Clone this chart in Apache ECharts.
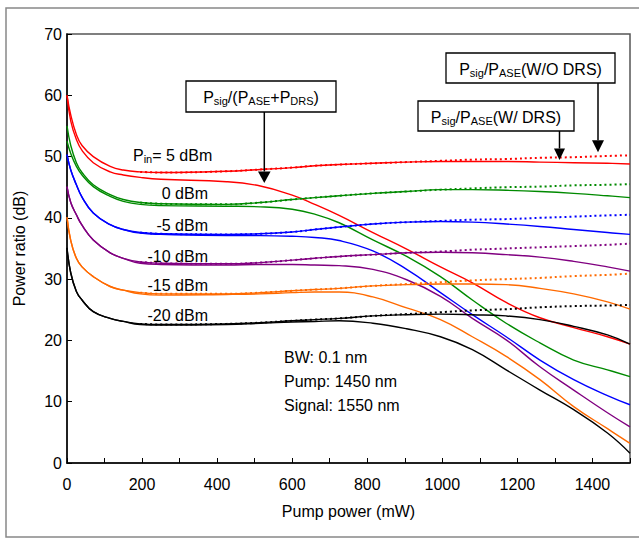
<!DOCTYPE html>
<html>
<head>
<meta charset="utf-8">
<script src="https://cdn.jsdelivr.net/npm/echarts@6/dist/echarts.min.js"></script>
<style>
html,body{margin:0;padding:0;background:#fff;}
#chart{width:639px;height:539px;}
</style>
</head>
<body>
<div id="chart"></div>
<script>
// Pump power (mW) sample positions
const pumpPower = [0, 10, 25, 40, 70, 115, 150, 195, 250, 425, 515, 600, 660, 725, 815, 905, 995, 1080, 1170, 1260, 1350, 1440, 1500];

// Pin = 5 dBm (red)
const red_DRS   = [60, 55.8, 52.8, 51.0, 49.0, 47.5, 47.0, 46.6, 46.3, 45.9, 45.2, 43.7, 42.2, 40.4, 37.6, 34.9, 32.0, 29.4, 26.2, 23.7, 22.1, 20.6, 19.4];
const red_WDRS  = [60, 56.8, 53.6, 51.8, 50.0, 48.4, 47.8, 47.5, 47.4, 47.6, 47.9, 48.2, 48.5, 48.7, 48.9, 49.1, 49.2, 49.2, 49.2, 49.1, 49.0, 48.9, 48.8];
const red_WODRS = [null, null, null, null, null, null, null, 47.5, 47.4, 47.6, 47.9, 48.2, 48.5, 48.7, 48.9, 49.1, 49.3, 49.5, 49.6, 49.8, 49.9, 50.1, 50.2];
// Pin = 0 dBm (green)
const green_DRS   = [52.5, 50.5, 48.4, 47.0, 45.1, 43.5, 42.7, 42.2, 42.0, 41.9, 41.8, 41.4, 40.6, 39.2, 36.4, 33.7, 30.4, 26.6, 22.8, 19.6, 16.8, 15.2, 14.1];
const green_WDRS  = [55, 51.8, 49.0, 47.4, 45.4, 43.8, 43.0, 42.5, 42.3, 42.2, 42.5, 43.0, 43.3, 43.6, 44.0, 44.3, 44.6, 44.6, 44.5, 44.3, 44.0, 43.6, 43.3];
const green_WODRS = [null, null, null, null, null, null, null, 42.5, 42.3, 42.2, 42.5, 43.0, 43.3, 43.6, 44.0, 44.3, 44.6, 44.8, 45.0, 45.1, 45.3, 45.4, 45.5];
// Pin = -5 dBm (blue)
const blue_DRS   = [50.3, 47.8, 45.4, 43.4, 40.8, 38.9, 38.1, 37.5, 37.3, 37.1, 37.1, 37.0, 36.8, 36.3, 34.6, 31.6, 27.8, 24.2, 20.6, 16.8, 13.6, 11.0, 9.5];
const blue_WDRS  = [50.3, 47.8, 45.4, 43.4, 40.8, 38.9, 38.1, 37.6, 37.4, 37.3, 37.4, 37.7, 38.1, 38.5, 39.0, 39.3, 39.4, 39.3, 39.0, 38.6, 38.1, 37.6, 37.3];
const blue_WODRS = [null, null, null, null, null, null, null, 37.6, 37.4, 37.3, 37.4, 37.7, 38.1, 38.5, 39.0, 39.3, 39.5, 39.7, 39.8, 40.0, 40.2, 40.4, 40.5];
// Pin = -10 dBm (purple)
const purple_DRS   = [45.1, 42.5, 40.5, 38.8, 36.4, 34.3, 33.4, 32.6, 32.4, 32.3, 32.4, 32.4, 32.3, 32.2, 31.6, 29.9, 27.2, 23.6, 20.1, 15.7, 11.9, 8.2, 5.9];
const purple_WDRS  = [45.1, 42.5, 40.5, 38.8, 36.4, 34.3, 33.4, 32.8, 32.6, 32.5, 32.7, 33.1, 33.4, 33.7, 34.0, 34.3, 34.4, 34.3, 34.0, 33.6, 32.9, 32.0, 31.3];
const purple_WODRS = [null, null, null, null, null, null, null, 32.8, 32.6, 32.5, 32.7, 33.1, 33.4, 33.7, 34.0, 34.3, 34.5, 34.8, 35.0, 35.2, 35.4, 35.6, 35.8];
// Pin = -15 dBm (orange)
const orange_DRS   = [40.1, 36.3, 33.4, 32.0, 30.4, 28.8, 28.2, 27.6, 27.4, 27.5, 27.6, 27.8, 27.9, 27.9, 27.1, 25.3, 23.4, 20.6, 17.4, 13.6, 9.2, 5.6, 3.2];
const orange_WDRS  = [40.1, 36.3, 33.4, 32.0, 30.4, 28.8, 28.2, 27.8, 27.6, 27.6, 27.8, 28.1, 28.3, 28.5, 28.9, 29.1, 29.2, 29.2, 29.1, 28.5, 27.6, 26.3, 25.1];
const orange_WODRS = [null, null, null, null, null, null, null, 27.8, 27.6, 27.6, 27.8, 28.1, 28.3, 28.5, 28.9, 29.2, 29.5, 29.8, 30.0, 30.2, 30.5, 30.7, 30.9];
// Pin = -20 dBm (black)
const black_DRS   = [35.1, 31.0, 28.0, 26.6, 24.7, 23.6, 23.1, 22.6, 22.5, 22.6, 22.8, 23.0, 23.1, 23.2, 22.8, 21.9, 20.6, 18.5, 15.2, 11.9, 8.7, 4.9, 1.6];
const black_WDRS  = [35.1, 31.0, 28.0, 26.6, 24.7, 23.6, 23.1, 22.7, 22.6, 22.7, 22.9, 23.2, 23.4, 23.6, 24.0, 24.2, 24.3, 24.2, 24.0, 23.4, 22.3, 20.9, 19.4];
const black_WODRS = [null, null, null, null, null, null, null, 22.7, 22.6, 22.7, 22.9, 23.2, 23.4, 23.6, 24.0, 24.3, 24.6, 24.9, 25.1, 25.4, 25.6, 25.7, 25.8];

const xTickLabels = [0, 200, 400, 600, 800, 1000, 1200, 1400];
const levelLabels = ['= 5 dBm', '0 dBm', '-5 dBm', '-10 dBm', '-15 dBm', '-20 dBm'];

const groups = [
  {color:'#ff0000', drs:red_DRS, w:red_WDRS, wo:red_WODRS},
  {color:'#008a00', drs:green_DRS, w:green_WDRS, wo:green_WODRS},
  {color:'#0000ff', drs:blue_DRS, w:blue_WDRS, wo:blue_WODRS},
  {color:'#800080', drs:purple_DRS, w:purple_WDRS, wo:purple_WODRS},
  {color:'#ff6a00', drs:orange_DRS, w:orange_WDRS, wo:orange_WODRS},
  {color:'#000000', drs:black_DRS, w:black_WDRS, wo:black_WODRS}
];

function pairs(arr){ return pumpPower.map((x,i)=>[x, arr[i]]); }

const SMOOTH = 0.45;
const series = [];
groups.forEach(g=>{
  series.push({type:'line', data:pairs(g.wo), showSymbol:false, smooth:SMOOTH, connectNulls:false,
    lineStyle:{color:g.color, width:2, type:[2,3]}, silent:true});
  series.push({type:'line', data:pairs(g.w), showSymbol:false, smooth:SMOOTH,
    lineStyle:{color:g.color, width:1.4}, silent:true});
  series.push({type:'line', data:pairs(g.drs), showSymbol:false, smooth:SMOOTH,
    lineStyle:{color:g.color, width:1.4}, silent:true});
});

const FONT = '"Liberation Sans", Arial, sans-serif';
const subRich = {
  n:{fontSize:16, fontFamily:FONT, color:'#000', lineHeight:20, verticalAlign:'bottom', padding:[0,0,1,0]},
  s:{fontSize:11, fontFamily:FONT, color:'#000', lineHeight:12, verticalAlign:'bottom', padding:[0,0,0,0]}
};

const chart = echarts.init(document.getElementById('chart'), null, {renderer:'svg'});

const levelY = [154, 193.5, 225, 256, 285.5, 315];
const graphics = [];
// outer frame
graphics.push({type:'rect', shape:{x:6, y:8, width:640, height:529}, style:{fill:'none', stroke:'#888', lineWidth:1.5}, silent:true});
// level labels
levelLabels.forEach((t,i)=>{
  if(i===0){
    graphics.push({type:'text', x:133, y:levelY[i], style:{text:'{n|P}{s|in}{n|'+t+'}', rich:subRich, verticalAlign:'middle', align:'left'}});
  } else {
    graphics.push({type:'text', x:208, y:levelY[i], style:{text:t, fontSize:16, fontFamily:FONT, fill:'#000', align:'right', verticalAlign:'middle'}});
  }
});
// condition text
['BW: 0.1 nm','Pump: 1450 nm','Signal: 1550 nm'].forEach((t,i)=>{
  graphics.push({type:'text', x:284, y:[357.7,381.7,405][i], style:{text:t, fontSize:16, fontFamily:FONT, fill:'#000', align:'left', verticalAlign:'middle'}});
});
// annotation boxes
function box(x1,y1,x2,y2,richText){
  graphics.push({type:'rect', shape:{x:x1, y:y1, width:x2-x1, height:y2-y1}, style:{fill:'#fff', stroke:'#000', lineWidth:1.3}, z:10});
  graphics.push({type:'text', x:(x1+x2)/2, y:(y1+y2)/2, style:{text:richText, rich:subRich, align:'center', verticalAlign:'middle'}, z:11});
}
function arrow(x, y1, y2, hw, hh){
  graphics.push({type:'line', shape:{x1:x, y1:y1, x2:x, y2:y2-hh}, style:{stroke:'#000', lineWidth:1.5}, z:10});
  graphics.push({type:'polygon', shape:{points:[[x-hw, y2-hh],[x+hw, y2-hh],[x, y2]]}, style:{fill:'#000'}, z:10});
}
box(186, 81, 336, 112, '{n|P}{s|sig}{n|/(P}{s|ASE}{n|+P}{s|DRS}{n|)}');
arrow(264.3, 112, 183, 6.3, 11.5);
box(446, 53, 615, 83, '{n|P}{s|sig}{n|/P}{s|ASE}{n|(W/O DRS)}');
arrow(598, 83, 152.3, 6, 12);
box(418, 101, 574, 131, '{n|P}{s|sig}{n|/P}{s|ASE}{n|(W/ DRS)}');
arrow(559.5, 131, 160, 5.5, 11.5);

chart.setOption({
  animation:false,
  backgroundColor:'#fff',
  grid:{left:67, right:9, top:34, bottom:76, show:true, borderColor:'#555', borderWidth:1.5},
  xAxis:{
    type:'value', min:0, max:1500, interval:100,
    name:'Pump power (mW)', nameLocation:'middle', nameGap:40,
    nameTextStyle:{fontSize:16, fontFamily:FONT, color:'#000'},
    axisLine:{show:true, lineStyle:{color:'#000', width:1.5}},
    axisTick:{show:true, inside:true, length:5, lineStyle:{color:'#000', width:1}},
    axisLabel:{fontSize:16, fontFamily:FONT, color:'#000', margin:13,
      formatter:v=> xTickLabels.indexOf(v)>=0 ? String(v) : ''},
    splitLine:{show:false}
  },
  yAxis:{
    type:'value', min:0, max:70, interval:10,
    name:'Power ratio (dB)', nameLocation:'middle', nameGap:40, nameRotate:90,
    nameTextStyle:{fontSize:16, fontFamily:FONT, color:'#000'},
    axisLine:{show:true, lineStyle:{color:'#000', width:1.5}},
    axisTick:{show:true, inside:true, length:5, lineStyle:{color:'#000', width:1}},
    axisLabel:{fontSize:16, fontFamily:FONT, color:'#000', margin:5},
    splitLine:{show:false}
  },
  series:series,
  graphic:graphics
});
</script>
</body>
</html>
